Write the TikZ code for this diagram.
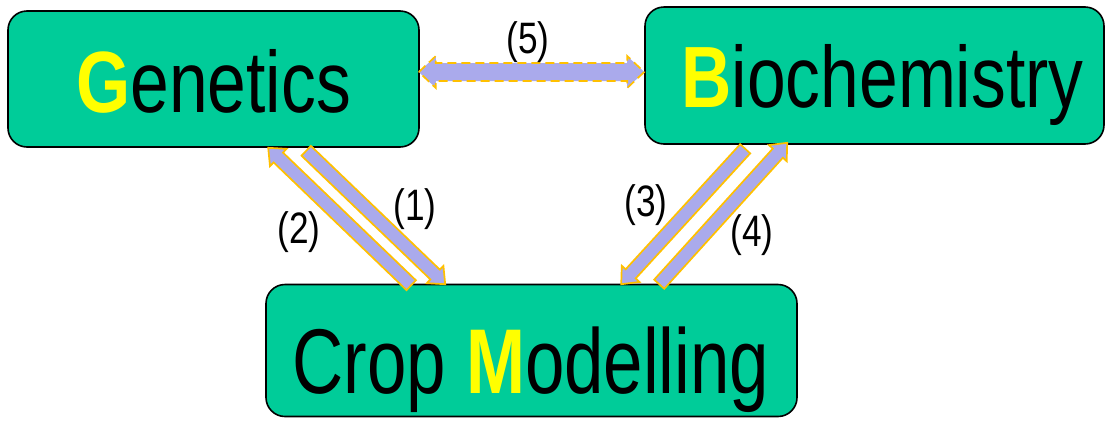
\documentclass[tikz,border=0pt]{standalone}
\usepackage{fontspec}
\setmainfont{Liberation Sans}[FakeStretch=0.8]
\newfontfamily\cropfont{Liberation Sans}[FakeStretch=0.77]
\usetikzlibrary{calc}
\definecolor{boxgreen}{RGB}{0,204,153}
\definecolor{arrfill}{RGB}{170,170,236}
\definecolor{arrline}{RGB}{255,192,0}
\definecolor{hiyellow}{RGB}{255,255,0}
\tikzset{
  topicbox/.style={draw=black, line width=1.6pt, fill=boxgreen, rounded corners=19pt, inner sep=0pt},
  topictext/.style={anchor=base, inner sep=0pt, text=black},
  numlabel/.style={anchor=base, inner sep=0pt, font=\fontsize{44}{44}\selectfont},
  blockarr/.style={draw=arrline, fill=arrfill, line width=1.7pt, line join=miter},
}
% #1 options, #2 start, #3 tip, #4 half shaft width, #5 half head width, #6 head length
\newcommand{\blockarrow}[6][]{%
  \coordinate (bah) at ($(#3)!#6!(#2)$);
  \draw[blockarr,#1] ($(#2)!#4!90:(#3)$) -- ($(bah)!#4!90:(#3)$) -- ($(bah)!#5!90:(#3)$) -- (#3)
     -- ($(bah)!#5!-90:(#3)$) -- ($(bah)!#4!-90:(#3)$) -- ($(#2)!#4!-90:(#3)$) -- cycle;}
\newcommand{\dblockarrow}[6][]{%
  \coordinate (bb1) at ($(#2)!#6!(#3)$);
  \coordinate (bb2) at ($(#3)!#6!(#2)$);
  \draw[blockarr,#1] (#2) -- ($(bb1)!#5!90:(#3)$) -- ($(bb1)!#4!90:(#3)$) -- ($(bb2)!#4!90:(#3)$)
     -- ($(bb2)!#5!90:(#3)$) -- (#3) -- ($(bb2)!#5!-90:(#3)$) -- ($(bb2)!#4!-90:(#3)$)
     -- ($(bb1)!#4!-90:(#3)$) -- ($(bb1)!#5!-90:(#3)$) -- cycle;}
\begin{document}
\begin{tikzpicture}[x=1pt,y=-1pt]
\useasboundingbox (0,0) rectangle (1106,421);
% boxes
\node[topicbox, minimum width=411pt, minimum height=136pt] (gen) at (213.5,79) {};
\node[topicbox, minimum width=459pt, minimum height=137pt] (bio) at (874.5,75.5) {};
\node[topicbox, minimum width=531pt, minimum height=132pt] (crop) at (531.5,350.5) {};
% texts
\node[topictext, font=\fontsize{87}{87}\selectfont] (gent) at (213.5,112) {\textbf{\textcolor{hiyellow}{G}}enetics};
\node[topictext, font=\fontsize{87}{87}\selectfont] (biot) at (882.5,107) {\textbf{\textcolor{hiyellow}{B}}iochemistry};
\node[topictext, font=\cropfont\fontsize{92}{92}\selectfont] (cropt) at (531,393) {Crop \textbf{\textcolor{hiyellow}{M}}odelling};
% connector end points
\coordinate (a1s) at ($(gen.south west)+(299,3)$);
\coordinate (a1e) at ($(crop.north west)+(180,0.5)$);
\coordinate (a2s) at ($(crop.north west)+(146,1.5)$);
\coordinate (a2e) at ($(gen.south west)+(261,0)$);
\coordinate (a3s) at ($(bio.south west)+(101,4)$);
\coordinate (a3e) at ($(crop.north west)+(356,0.5)$);
\coordinate (a4s) at ($(crop.north west)+(394,0.5)$);
\coordinate (a4e) at ($(bio.south west)+(143,-2)$);
\coordinate (a5s) at ($(gen.east)+(-1,-7)$);
\coordinate (a5e) at ($(bio.west)+(0,-3.5)$);
% arrows
\blockarrow{a1s}{a1e}{6.8pt}{12pt}{14pt}
\blockarrow{a2s}{a2e}{6.8pt}{12pt}{14pt}
\blockarrow{a3s}{a3e}{6.8pt}{12pt}{14pt}
\blockarrow{a4s}{a4e}{6.8pt}{12pt}{14pt}
\dblockarrow[dash pattern=on 9pt off 5pt]{a5s}{a5e}{9pt}{16pt}{17pt}
% labels
\node[numlabel] (l5) at (528,53) {(5)};
\node[numlabel] (l1) at (415,220) {(1)};
\node[numlabel] (l2) at (299,243) {(2)};
\node[numlabel] (l3) at (646,216) {(3)};
\node[numlabel] (l4) at (752,246) {(4)};
\end{tikzpicture}
\end{document}
